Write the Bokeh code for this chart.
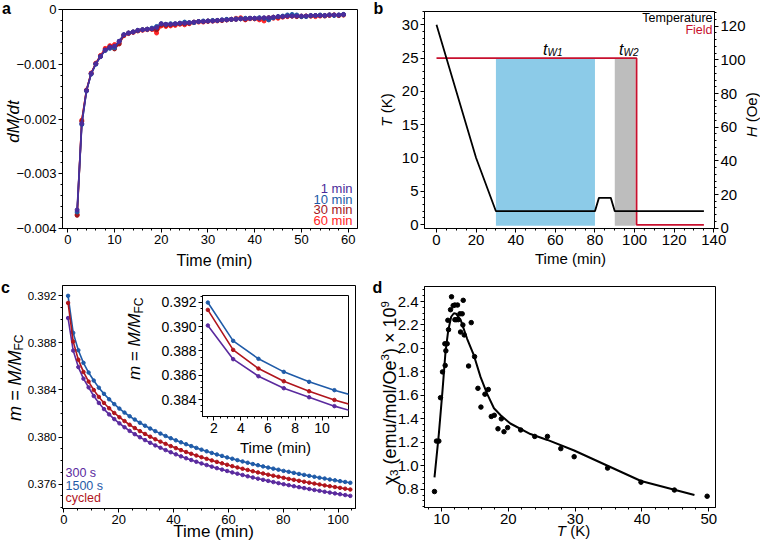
import math
from bokeh.plotting import figure
from bokeh.models import (Range1d, LinearAxis, FixedTicker,
                          PrintfTickFormatter, CustomJSTickFormatter)
from bokeh.core.properties import value
from bokeh.embed import file_html
from bokeh.resources import INLINE

FONT = "Liberation Sans"
NB = "\u00a0"

# ---------------- data: panel a ----------------
a_time = list(range(2, 60))
a_1min = [-0.00366, -0.00208, -0.00148, -0.00117, -0.00099, -0.00086, -0.00074, -0.00069, -0.00067, -0.00058,
          -0.00046, -0.00043, -0.00041, -0.00038, -0.00037, -0.00036, -0.00035, -0.00033, -0.00026, -0.00027,
          -0.00027, -0.00026, -0.00025, -0.00025, -0.00024, -0.00023, -0.00022, -0.00022, -0.00021, -0.00021,
          -0.00020, -0.00019, -0.00019, -0.00018, -0.00018, -0.00017, -0.00017, -0.00016, -0.00016, -0.00016,
          -0.00015, -0.00015, -0.00014, -0.00013, -0.00013, -0.00012, -0.00012, -0.00012, -0.00012, -0.00012,
          -0.00011, -0.00011, -0.00011, -0.00011, -0.00010, -0.00010, -0.00010, -0.00009]
a_10min = [-0.00370, -0.00210, -0.00149, -0.00118, -0.00100, -0.00086, -0.00075, -0.00071, -0.00070, -0.00058,
           -0.00046, -0.00043, -0.00041, -0.00038, -0.00037, -0.00036, -0.00034, -0.00031, -0.00026, -0.00027,
           -0.00026, -0.00026, -0.00025, -0.00023, -0.00024, -0.00024, -0.00022, -0.00021, -0.00021, -0.00020,
           -0.00020, -0.00019, -0.00018, -0.00018, -0.00017, -0.00017, -0.00016, -0.00016, -0.00016, -0.00015,
           -0.00016, -0.00019, -0.00015, -0.00013, -0.00012, -0.00010, -0.00009, -0.00010, -0.00013, -0.00013,
           -0.00011, -0.00011, -0.00010, -0.00011, -0.00010, -0.00011, -0.00010, -0.00009]
a_30min = [-0.00376, -0.00204, -0.00148, -0.00117, -0.00099, -0.00085, -0.00074, -0.00068, -0.00072, -0.00063,
           -0.00047, -0.00043, -0.00041, -0.00039, -0.00037, -0.00036, -0.00036, -0.00037, -0.00028, -0.00029,
           -0.00028, -0.00027, -0.00026, -0.00026, -0.00025, -0.00023, -0.00022, -0.00022, -0.00021, -0.00021,
           -0.00020, -0.00020, -0.00019, -0.00018, -0.00018, -0.00017, -0.00018, -0.00016, -0.00017, -0.00016,
           -0.00016, -0.00015, -0.00014, -0.00014, -0.00013, -0.00012, -0.00012, -0.00013, -0.00012, -0.00012,
           -0.00012, -0.00011, -0.00011, -0.00012, -0.00010, -0.00010, -0.00011, -0.00010]
a_60min = [-0.00374, -0.00202, -0.00147, -0.00116, -0.00098, -0.00084, -0.00071, -0.00066, -0.00064, -0.00061,
           -0.00048, -0.00044, -0.00042, -0.00039, -0.00038, -0.00037, -0.00036, -0.00043, -0.00030, -0.00031,
           -0.00030, -0.00029, -0.00027, -0.00028, -0.00026, -0.00024, -0.00023, -0.00023, -0.00022, -0.00021,
           -0.00021, -0.00020, -0.00019, -0.00018, -0.00016, -0.00015, -0.00019, -0.00017, -0.00017, -0.00019,
           -0.00021, -0.00018, -0.00016, -0.00016, -0.00014, -0.00013, -0.00012, -0.00012, -0.00013, -0.00012,
           -0.00012, -0.00013, -0.00012, -0.00011, -0.00011, -0.00010, -0.00011, -0.00010]
a_names = ["1 min", "10 min", "30 min", "60 min"]

# ---------------- data: panel b ----------------
b_time_T = [0, 20, 30, 80, 82, 88, 90, 135]
b_temp = [30, 10, 2, 2, 4, 4, 2, 2]
b_time_H = [0, 101, 101, 135]
b_field = [101, 101, 2, 2]
b_wait_start = [30, 90]
b_wait_end = [80, 100.5]
b_wait_temp_top = [25, 25]
b_wait_names = ["W1", "W2"]

# ---------------- data: panel c ----------------
c_time = [1.56, 3.43, 5.30, 7.17, 9.04, 10.91, 12.78, 14.65, 16.52, 18.39,
          20.26, 22.13, 24.00, 25.87, 27.74, 29.61, 31.48, 33.35, 35.22, 37.09,
          38.96, 40.83, 42.70, 44.57, 46.44, 48.31, 50.18, 52.05, 53.92, 55.79,
          57.66, 59.53, 61.40, 63.27, 65.14, 67.01, 68.88, 70.75, 72.62, 74.49,
          76.36, 78.23, 80.10, 81.97, 83.84, 85.71, 87.58, 89.45, 91.32, 93.19,
          95.06, 96.93, 98.80, 100.67, 102.54, 104.41]
c_300s = [0.39009, 0.38733, 0.38593, 0.38495, 0.38421, 0.38348, 0.38289, 0.38237, 0.38192, 0.38152,
          0.38116, 0.38083, 0.38052, 0.38024, 0.37998, 0.37974, 0.37951, 0.37929, 0.37909, 0.37889,
          0.37871, 0.37853, 0.37836, 0.37820, 0.37805, 0.37790, 0.37776, 0.37762, 0.37749, 0.37736,
          0.37724, 0.37712, 0.37700, 0.37689, 0.37678, 0.37667, 0.37657, 0.37647, 0.37637, 0.37628,
          0.37618, 0.37609, 0.37600, 0.37592, 0.37583, 0.37575, 0.37567, 0.37559, 0.37551, 0.37544,
          0.37536, 0.37529, 0.37522, 0.37515, 0.37508, 0.37501]
c_1500s = [0.39197, 0.38883, 0.38736, 0.38629, 0.38547, 0.38479, 0.38418, 0.38366, 0.38320, 0.38279,
           0.38241, 0.38207, 0.38176, 0.38148, 0.38121, 0.38096, 0.38072, 0.38050, 0.38029, 0.38009,
           0.37990, 0.37972, 0.37955, 0.37939, 0.37923, 0.37908, 0.37893, 0.37879, 0.37865, 0.37852,
           0.37840, 0.37827, 0.37816, 0.37804, 0.37793, 0.37782, 0.37771, 0.37761, 0.37751, 0.37741,
           0.37732, 0.37723, 0.37713, 0.37705, 0.37696, 0.37687, 0.37679, 0.37671, 0.37663, 0.37655,
           0.37648, 0.37640, 0.37633, 0.37626, 0.37619, 0.37612]
c_cycled = [0.39137, 0.38809, 0.38656, 0.38552, 0.38470, 0.38399, 0.38340, 0.38289, 0.38244, 0.38204,
            0.38168, 0.38135, 0.38104, 0.38076, 0.38050, 0.38026, 0.38003, 0.37981, 0.37961, 0.37942,
            0.37923, 0.37906, 0.37889, 0.37873, 0.37858, 0.37843, 0.37829, 0.37815, 0.37802, 0.37789,
            0.37777, 0.37765, 0.37753, 0.37742, 0.37731, 0.37721, 0.37710, 0.37700, 0.37691, 0.37681,
            0.37672, 0.37663, 0.37654, 0.37645, 0.37637, 0.37629, 0.37621, 0.37613, 0.37605, 0.37598,
            0.37590, 0.37583, 0.37576, 0.37569, 0.37562, 0.37555]
c_names = ["300 s", "1500 s", "cycled"]

# ---------------- data: panel d ----------------
d_T = [8.95, 9.25, 9.6, 9.85, 10.15, 10.5, 10.55, 10.65, 10.85, 10.95,
       11.05, 11.35, 11.5, 11.75, 12.0, 12.0, 12.2, 12.4, 12.5, 12.75,
       12.85, 13.1, 13.2, 13.25, 13.4, 14.05, 14.45, 14.95, 15.45, 15.9,
       16.5, 17.0, 17.45, 17.9, 18.45, 18.95, 19.35, 19.9, 21.85, 23.95,
       25.85, 27.85, 29.85, 34.85, 39.85, 44.85, 49.75]
d_chi3 = [0.78, 1.21, 1.21, 1.58, 1.80, 2.04, 1.855, 1.98, 2.04, 2.24,
          2.16, 2.33, 2.44, 2.365, 2.37, 2.245, 2.245, 2.37, 2.245, 2.295,
          2.14, 2.295, 2.20, 2.41, 2.115, 1.85, 2.22, 1.93, 1.66, 1.50,
          1.61, 1.65, 1.42, 1.43, 1.315, 1.40, 1.29, 1.325, 1.305, 1.25,
          1.25, 1.146, 1.077, 0.98, 0.86, 0.793, 0.74]
d_fit_T = [8.95, 9.6, 10.15, 10.6, 11.0, 11.45, 11.85, 12.2, 12.5, 12.85,
           13.25, 13.85, 14.85, 15.85, 16.85, 17.85, 18.85, 20.3, 23.3, 25.85,
           29.85, 34.85, 39.85, 47.85]
d_fit_chi3 = [0.90, 1.27, 1.64, 1.97, 2.15, 2.27, 2.30, 2.295, 2.27, 2.245,
              2.18, 2.08, 1.94, 1.755, 1.61, 1.49, 1.43, 1.36, 1.27, 1.22,
              1.13, 1.0, 0.87, 0.75]


# ---------------- helpers ----------------
def mk(left, top, w, h, frame, xr, yr):
    fl, ft, fr, fb = frame
    p = figure(width=w, height=h, x_range=Range1d(*xr), y_range=Range1d(*yr),
               min_border_left=fl - left, min_border_right=left + w - fr,
               min_border_top=ft - top, min_border_bottom=top + h - fb,
               output_backend="svg", toolbar_location=None, tools="",
               styles={"position": "absolute", "left": f"{left}px", "top": f"{top}px"})
    p.border_fill_color = None
    p.background_fill_color = "white"
    p.outline_line_color = "black"
    p.outline_line_width = 1
    p.xgrid.visible = False
    p.ygrid.visible = False
    return p


def style_axes(p, size="14px"):
    for ax in p.axis:
        ax.axis_line_color = "black"
        ax.major_tick_line_color = "black"
        ax.minor_tick_line_color = "black"
        ax.major_tick_out = 4
        ax.major_tick_in = 0
        ax.minor_tick_out = 2
        ax.minor_tick_in = 0
        ax.major_label_text_font = FONT
        ax.major_label_text_font_size = size
        ax.major_label_text_color = "black"
        ax.major_label_standoff = 2
        ax.axis_label = None


def rng(a, b, s):
    n = int(round((b - a) / s))
    return [round(a + i * s, 6) for i in range(n + 1)]


# transparent overlay that carries all free texts (page coordinates)
ov = figure(width=760, height=548, x_range=Range1d(0, 760), y_range=Range1d(548, 0),
            min_border_left=0, min_border_right=0, min_border_top=0, min_border_bottom=0,
            x_axis_location=None, y_axis_location=None,
            output_backend="svg", toolbar_location=None, tools="",
            styles={"position": "absolute", "left": "0px", "top": "0px"})
ov.background_fill_color = None
ov.border_fill_color = None
ov.outline_line_color = None
ov.grid.visible = False


def txt(text, px, py, size=15, angle=0, align="center", baseline="middle",
        style="normal", color="black"):
    ov.text(x=[px], y=[py], text=[text], angle=angle, text_align=align,
            text_baseline=baseline, text_font=value(FONT),
            text_font_size=value(f"{size}px"), text_font_style=style,
            text_color=color)


UP = math.pi / 2

# ---------------- panel a ----------------
pa = mk(0, 0, 380, 270, (62, 9, 357, 228), (-1.13, 62.0), (-0.004, 0.0))
a_colors = ["#4b2c9a", "#1c5aa6", "#a3161c", "#ff2525"]
a_series = [a_1min, a_10min, a_30min, a_60min]
for ys, col in reversed(list(zip(a_series, a_colors))):
    pa.line(a_time, ys, color=col, line_width=1.7)
    pa.scatter(a_time, ys, size=4, color=col)
style_axes(pa, "13px")
pa.xaxis.ticker = FixedTicker(ticks=rng(0, 60, 10), minor_ticks=rng(0, 60, 2))
pa.yaxis.ticker = FixedTicker(ticks=rng(-0.004, 0, 0.001), minor_ticks=rng(-0.004, 0, 0.0002))
pa.yaxis.formatter = CustomJSTickFormatter(
    code="return Math.abs(tick) < 1e-9 ? '0' : '\u2212' + Math.abs(tick).toFixed(3);")
txt("a", 6, 8, size=16, style="bold")
txt("dM/dt", 13, 121, size=17, angle=UP, style="italic")
txt("Time (min)", 214, 260, size=16)
for name, col, py in zip(a_names, a_colors, [188, 198.5, 209, 219.5]):
    txt(name, 352, py, size=13, align="right", color=col)

# ---------------- panel b ----------------
pb = mk(368, 0, 392, 270, (424, 11, 714, 228), (-6.06, 140.35), (-0.6, 32.0))
pb.extra_y_ranges = {"H": Range1d(-0.18, 128.73)}
pb.quad(left=b_wait_start, right=b_wait_end, bottom=[-0.2, -0.2], top=b_wait_temp_top,
        fill_color=["#8ccbe8", "#bdbdbd"], line_color=None)
pb.line(b_time_H, b_field, color="#c8102e", line_width=1.8, y_range_name="H")
pb.line(b_time_T, b_temp, color="black", line_width=1.8)
pb.add_layout(LinearAxis(y_range_name="H"), "right")
style_axes(pb, "15px")
pb.xaxis.ticker = FixedTicker(ticks=rng(0, 140, 20), minor_ticks=rng(0, 140, 5))
pb.yaxis[0].ticker = FixedTicker(ticks=rng(0, 30, 5), minor_ticks=rng(0, 32, 1))
pb.yaxis[1].ticker = FixedTicker(ticks=rng(0, 120, 20), minor_ticks=rng(0, 128, 4))
txt("b", 378, 8, size=16, style="bold")
txt("T", 386, 117, size=15, angle=UP, align="right", style="italic")
txt(NB + "(K)", 386, 117, size=15, angle=UP, align="left")
txt("H", 751, 126, size=15, angle=UP, align="right", style="italic")
txt(NB + "(Oe)", 751, 126, size=15, angle=UP, align="left")
txt("Time (min)", 570, 258, size=15)
txt("Temperature", 712, 17, size=12.5, align="right")
txt("Field", 712, 29, size=12.5, align="right", color="#c8102e")
for name, px in zip(b_wait_names, [547, 623]):
    txt("t", px, 49, size=16, align="right", baseline="alphabetic", style="italic")
    txt(name, px, 52, size=10, align="left", baseline="alphabetic", style="italic")

# ---------------- panel c ----------------
pc = mk(0, 272, 380, 276, (62, 285, 355, 508), (-0.47, 106.3), (0.37394, 0.392848))
c_colors = ["#5a2a9e", "#1f5ba8", "#b0151c"]
c_series = [c_300s, c_1500s, c_cycled]
for ys, col in zip(c_series, c_colors):
    pc.line(c_time, ys, color=col, line_width=1.6)
    pc.scatter(c_time, ys, size=3.5, color=col)
style_axes(pc, "13px")
pc.yaxis.major_label_text_font_size = "11.5px"
pc.xaxis.ticker = FixedTicker(ticks=rng(0, 100, 20), minor_ticks=rng(0, 105, 5))
pc.yaxis.ticker = FixedTicker(ticks=rng(0.376, 0.392, 0.004), minor_ticks=rng(0.374, 0.392, 0.001))
pc.yaxis.formatter = PrintfTickFormatter(format="%.3f")
txt("c", 5, 287, size=16, style="bold")
txt("m = M/M", 14, 350, size=18, angle=UP, align="right", style="italic")
txt("FC", 18.5, 350, size=12, angle=UP, align="left")
txt("Time (min)", 213, 531, size=17)
for name, col, py in zip(c_names, c_colors, [472, 485, 497.5]):
    txt(name, 65, py, size=12.5, align="left", color=col)

# ---------------- inset of panel c ----------------
pin = mk(120, 286, 236, 172, (202, 295, 348, 416), (1.165, 11.95), (0.382631, 0.392549))
for ys, col in zip(c_series, c_colors):
    pin.line(c_time, ys, color=col, line_width=1.6)
    pin.scatter(c_time, ys, size=3.5, color=col)
style_axes(pin, "14px")
pin.xaxis.ticker = FixedTicker(ticks=rng(2, 10, 2), minor_ticks=rng(1.5, 11.5, 0.5))
pin.yaxis.ticker = FixedTicker(ticks=rng(0.384, 0.392, 0.002), minor_ticks=rng(0.383, 0.3925, 0.0005))
pin.yaxis.formatter = PrintfTickFormatter(format="%.3f")
txt("m = M/M", 134, 313, size=17, angle=UP, align="right", style="italic")
txt("FC", 138.5, 313, size=12, angle=UP, align="left")
txt("Time (min)", 275, 447, size=15)

# ---------------- panel d ----------------
pd_ = mk(368, 272, 392, 276, (424, 286, 715, 507), (7.456, 51.0), (0.644, 2.5279))
pd_.line(d_fit_T, d_fit_chi3, color="black", line_width=2)
pd_.scatter(d_T, d_chi3, size=4.5, color="black")
style_axes(pd_, "15px")
pd_.xaxis.ticker = FixedTicker(ticks=rng(10, 50, 10), minor_ticks=rng(8, 50, 2))
pd_.yaxis.ticker = FixedTicker(ticks=rng(0.8, 2.4, 0.2), minor_ticks=rng(0.65, 2.5, 0.05))
pd_.yaxis.formatter = PrintfTickFormatter(format="%.1f")
txt("d", 377, 287, size=16, style="bold")
# chi_3 (emu/mol/Oe^3) x 10^9, built from pieces for real sub/superscripts
cx, y0 = 389, 484.5
txt("\u03c7", cx, y0, size=18, angle=UP, align="left")
txt("3", cx + 4, y0 - 9, size=11.5, angle=UP, align="left")
txt(NB + "(emu/mol/Oe", cx, y0 - 15.5, size=18, angle=UP, align="left")
txt("3", cx - 5, y0 - 124.5, size=11.5, angle=UP, align="left")
txt(")" + NB + "\u00d7" + NB + "10", cx, y0 - 131, size=18, angle=UP, align="left")
txt("9", cx - 5, y0 - 177.5, size=11.5, angle=UP, align="left")
txt("T", 565.5, 530, size=15, align="right", style="italic")
txt(NB + "(K)", 565.5, 530, size=15, align="left")

html = file_html([pa, pb, pc, pin, pd_, ov], INLINE, title="figure")
open("out.html", "w").write(html)
